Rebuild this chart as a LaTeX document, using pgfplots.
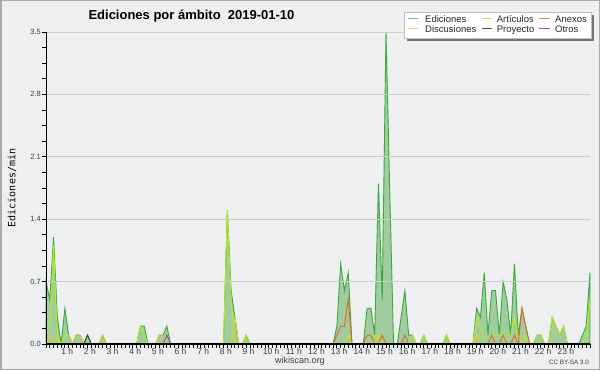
\documentclass[border=0pt]{standalone}
\usepackage{fontspec}
\setmainfont{Liberation Sans}
\newfontfamily\monofont{DejaVu Sans Mono}
\usepackage{pgfplots}
\pgfplotsset{compat=1.18}
\usepackage{pgfplotstable}

\definecolor{bgc}{RGB}{238,239,241}
\definecolor{bordc}{RGB}{170,170,170}
\definecolor{gridc}{RGB}{205,205,208}
\definecolor{tickc}{RGB}{60,60,60}
\definecolor{edline}{RGB}{55,170,55}
\definecolor{edfill}{RGB}{160,204,160}
\definecolor{artc}{RGB}{185,235,20}
\definecolor{disc}{RGB}{240,200,40}
\definecolor{anxc}{RGB}{240,100,30}
\definecolor{proc}{RGB}{55,65,55}
\definecolor{otrc}{RGB}{140,60,230}

\pgfplotstableread{
i E A D N P O
0 0.7 0.2 0 0 0 0
1 0.5 0.2 0.1 0 0 0
2 1.2 1.1 0 0 0 0
3 0.3 0.1 0.1 0 0 0
4 0 0 0 0 0 0
5 0.4 0.1 0 0 0 0
6 0.1 0.1 0 0 0 0
7 0 0 0 0 0 0
8 0.1 0 0.1 0 0 0
9 0.1 0 0.1 0 0 0
10 0 0 0 0 0 0
11 0.1 0 0 0 0.1 0
12 0 0 0 0 0 0
13 0 0 0 0 0 0
14 0 0 0 0 0 0
15 0.1 0 0.1 0 0 0
16 0 0 0 0 0 0
17 0 0 0 0 0 0
18 0 0 0 0 0 0
19 0 0 0 0 0 0
20 0 0 0 0 0 0
21 0 0 0 0 0 0
22 0 0 0 0 0 0
23 0 0 0 0 0 0
24 0 0 0 0 0 0
25 0.2 0.2 0 0 0 0
26 0.2 0.1 0 0 0 0
27 0 0 0 0 0 0
28 0 0 0 0 0 0
29 0 0 0 0 0 0
30 0.1 0 0.1 0 0 0
31 0.1 0 0.1 0 0 0
32 0.2 0.1 0 0 0 0.1
33 0 0 0 0 0 0
34 0 0 0 0 0 0
35 0 0 0 0 0 0
36 0 0 0 0 0 0
37 0 0 0 0 0 0
38 0 0 0 0 0 0
39 0 0 0 0 0 0
40 0 0 0 0 0 0
41 0 0 0 0 0 0
42 0 0 0 0 0 0
43 0 0 0 0 0 0
44 0 0 0 0 0 0
45 0 0 0 0 0 0
46 0 0 0 0 0 0
47 0 0 0 0 0 0
48 1.5 1.5 0 0 0 0
49 0.6 0.5 0 0 0 0
50 0.3 0 0.3 0 0 0
51 0 0 0 0 0 0
52 0 0 0 0 0 0
53 0.1 0.1 0 0 0 0
54 0 0 0 0 0 0
55 0 0 0 0 0 0
56 0 0 0 0 0 0
57 0 0 0 0 0 0
58 0 0 0 0 0 0
59 0 0 0 0 0 0
60 0 0 0 0 0 0
61 0 0 0 0 0 0
62 0 0 0 0 0 0
63 0 0 0 0 0 0
64 0 0 0 0 0 0
65 0 0 0 0 0 0
66 0 0 0 0 0 0
67 0 0 0 0 0 0
68 0 0 0 0 0 0
69 0 0 0 0 0 0
70 0 0 0 0 0 0
71 0 0 0 0 0 0
72 0 0 0 0 0 0
73 0 0 0 0 0 0
74 0 0 0 0 0 0
75 0 0 0 0 0 0
76 0 0 0 0 0 0
77 0.2 0 0 0.1 0 0
78 0.9 0 0 0.2 0 0
79 0.6 0 0 0.2 0 0
80 0.8 0.1 0 0.5 0 0
81 0 0 0 0 0 0
82 0 0 0 0 0 0
83 0 0 0 0 0 0
84 0 0 0 0 0 0
85 0.4 0 0 0.1 0 0
86 0.4 0 0 0.1 0 0
87 0.1 0.1 0 0 0 0
88 1.8 0.1 0.1 0 0 0
89 0.5 0 0 0.1 0 0
90 3.5 0 0 0 0 0
91 1.7 0 0 0 0 0
92 0 0 0 0 0 0
93 0 0 0 0 0 0
94 0.3 0 0 0 0 0
95 0.6 0 0 0.1 0 0
96 0.1 0 0 0 0 0
97 0.1 0.1 0 0 0 0
98 0 0 0 0 0 0
99 0 0 0 0 0 0
100 0.1 0.1 0 0 0 0
101 0 0 0 0 0 0
102 0 0 0 0 0 0
103 0 0 0 0 0 0
104 0 0 0 0 0 0
105 0 0 0 0 0 0
106 0.1 0.1 0 0 0 0
107 0 0 0 0 0 0
108 0 0 0 0 0 0
109 0 0 0 0 0 0
110 0 0 0 0 0 0
111 0 0 0 0 0 0
112 0 0 0 0 0 0
113 0 0 0 0 0 0
114 0.4 0.3 0.1 0 0 0
115 0.3 0.2 0 0 0 0
116 0.8 0 0 0 0 0
117 0.1 0 0 0 0 0
118 0.6 0.1 0 0.1 0 0
119 0.6 0.1 0 0 0 0
120 0.1 0.1 0 0 0 0
121 0.7 0.1 0 0.1 0 0
122 0.5 0.1 0 0 0 0
123 0.1 0.1 0 0 0 0
124 0.9 0.3 0 0.1 0 0
125 0.1 0.1 0 0 0 0
126 0.4 0 0 0.4 0 0
127 0.2 0.1 0 0.2 0 0
128 0 0 0 0 0 0
129 0 0 0 0 0 0
130 0.1 0.1 0 0 0 0
131 0.1 0.1 0 0 0 0
132 0 0 0 0 0 0
133 0 0 0 0 0 0
134 0.3 0.3 0 0 0 0
135 0.2 0.2 0 0 0 0
136 0.1 0.1 0 0 0 0
137 0.2 0.2 0 0 0 0
138 0 0 0 0 0 0
139 0 0 0 0 0 0
140 0 0 0 0 0 0
141 0 0 0 0 0 0
142 0.1 0 0 0 0 0
143 0.2 0.1 0 0 0 0
144 0.8 0.5 0 0 0 0
}\data

\begin{document}
\begin{tikzpicture}
\useasboundingbox (0pt,0pt) rectangle (600pt,370pt);
\fill[bgc] (0pt,0pt) rectangle (600pt,370pt);
\draw[bordc, line width=1.5pt] (0.75pt,0.75pt) rectangle (599.25pt,369.25pt);
\begin{axis}[
  at={(46pt,26pt)}, anchor=south west,
  scale only axis, width=544pt, height=312pt,
  xmin=0, xmax=24, ymin=0, ymax=3.5,
  axis lines=left, axis line style={-, black},
  x axis line style={line width=1.2pt},
  y axis line style={line width=0.8pt},
  xtick={0,...,24},
  xticklabels={{},1 h,2 h,3 h,4 h,5 h,6 h,7 h,8 h,9 h,10 h,11 h,12 h,13 h,14 h,15 h,16 h,17 h,18 h,19 h,20 h,21 h,22 h,23 h,{}},
  minor x tick num=5,
  ytick={0,0.7,1.4,2.1,2.8,3.5},
  yticklabels={0.0,0.7,1.4,2.1,2.8,3.5},
  minor y tick num=3,
  tick align=outside, major tick length=3.5pt, minor tick length=3.5pt,
  tick style={black, line width=0.8pt},
  ymajorgrids, major grid style={color=gridc, line width=0.8pt},
  axis on top, clip=false,
  xticklabel style={font=\fontsize{8.5}{9}\selectfont, text=tickc, inner sep=1pt, xshift=-1.5pt},
  yticklabel style={font=\fontsize{7.5}{8}\selectfont, text=tickc, inner sep=1.5pt},
]
\addplot[draw=edline, line width=0.9pt, fill=edfill] table[x expr=\thisrow{i}/6, y=E]{\data} \closedcycle;
\addplot[draw=disc, line width=0.9pt] table[x expr=\thisrow{i}/6, y=D]{\data};
\addplot[draw=artc, line width=0.9pt] table[x expr=\thisrow{i}/6, y=A]{\data};
\addplot[draw=proc, line width=0.9pt] table[x expr=\thisrow{i}/6, y=P]{\data};
\addplot[draw=otrc, line width=0.9pt] table[x expr=\thisrow{i}/6, y=O]{\data};
\addplot[draw=anxc, line width=0.9pt] table[x expr=\thisrow{i}/6, y=N]{\data};
\end{axis}
\begin{scope}[x=1pt,y=1pt]
\node[rotate=90, font=\monofont\fontsize{10}{11}\selectfont] at (12,182) {Ediciones/min};
\node[anchor=base west, font=\bfseries\fontsize{13}{15}\selectfont] at (85,350.7) {Ediciones por ámbito~~2019-01-10};
\node[font=\fontsize{9}{10}\selectfont, text=tickc] at (300,9) {wikiscan.org};
\node[anchor=east, font=\fontsize{6.3}{7}\selectfont, text=tickc, inner sep=0pt] at (589,7.3) {CC BY-SA 3.0};
% legend
\fill[black!55] (407,329) rectangle (594,355);
\draw[fill=white, draw=black!25, line width=0.6pt] (404,332) rectangle (591,358);
\begin{scope}[line width=1pt]
\draw[edline!70] (408,351) -- (418,351);
\draw[artc!80] (482,351) -- (492,351);
\draw[anxc!80] (539,351) -- (550,351);
\draw[disc!80] (408,341) -- (418,341);
\draw[proc!90] (482,341) -- (492,341);
\draw[otrc!90] (539,341) -- (550,341);
\end{scope}
\begin{scope}[font=\fontsize{9.5}{10}\selectfont, text=black!85, inner sep=0pt]
\node[anchor=base west] at (425,347.3) {Ediciones};
\node[anchor=base west] at (496.7,347.3) {Artículos};
\node[anchor=base west] at (555,347.3) {Anexos};
\node[anchor=base west] at (425,337.3) {Discusiones};
\node[anchor=base west] at (496.7,337.3) {Proyecto};
\node[anchor=base west] at (555,337.3) {Otros};
\end{scope}
\end{scope}
\end{tikzpicture}
\end{document}
